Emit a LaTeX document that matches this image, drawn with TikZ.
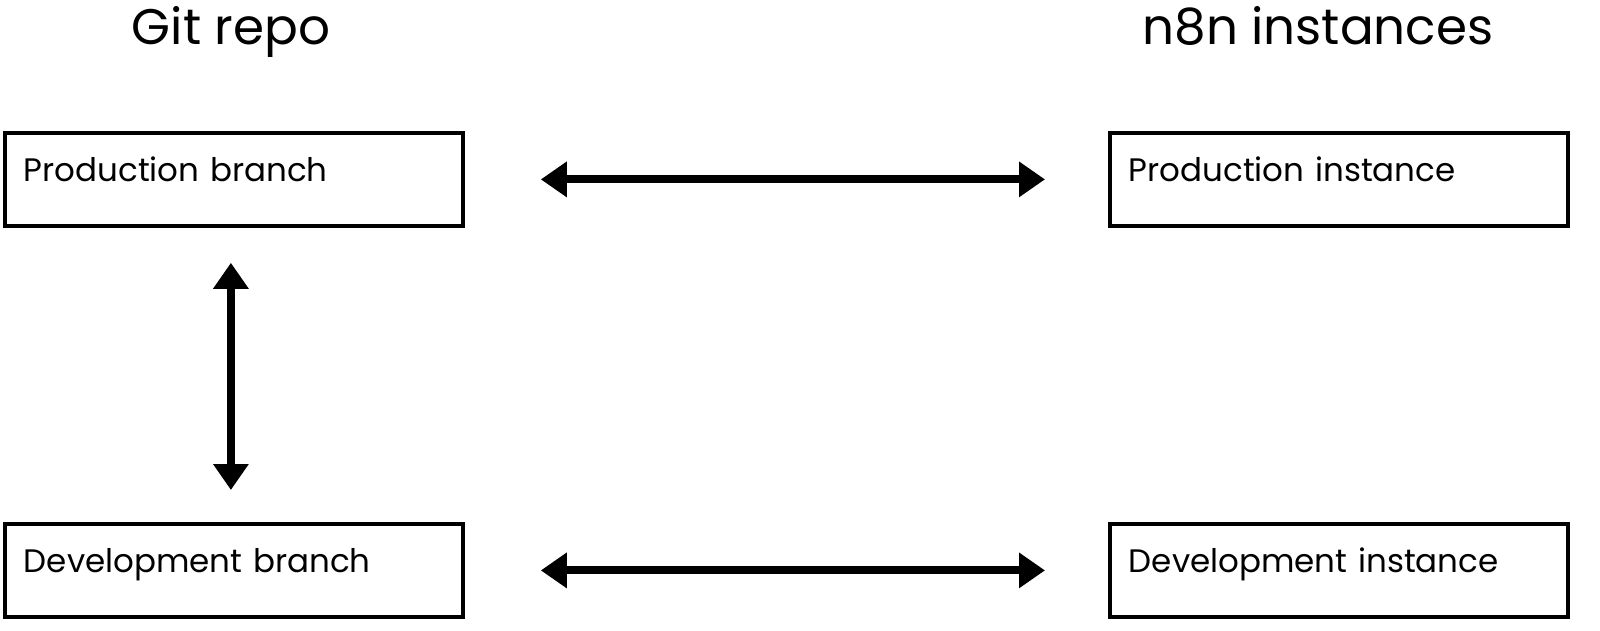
\documentclass[tikz,border=0pt]{standalone}
\usepackage{fontspec}
\setmainfont{Poppins}
\usetikzlibrary{arrows.meta}
\tikzset{
  box/.style={draw=black, line width=3.8pt, anchor=north west, minimum width=458pt,
    inner xsep=19pt, inner ysep=0pt, text width=420pt, align=left,
    text height=49pt, text depth=44pt, font=\fontsize{32.5}{38}\selectfont},
  title/.style={font=\fontsize{50}{56}\selectfont, anchor=base},
  link/.style={line width=8pt, {Triangle[length=26pt,width=34pt]}-{Triangle[length=26pt,width=34pt]}}
}
\begin{document}
\begin{tikzpicture}[x=1pt,y=-1pt]
\useasboundingbox (0,0) rectangle (1600,631);
\node[title] (t1) at (231,45) {Git repo};
\node[title] (t2) at (1318,45) {n8n instances};
\node[box] (pb) at (3,131) {Production branch};
\node[box] (pi) at (1108,131) {Production instance};
\node[box] (db) at (3,522) {Development branch};
\node[box] (di) at (1108,522) {Development instance};
\draw[link, shorten <=76pt, shorten >=63pt] (pb.east) -- (pi.west);
\draw[link, shorten <=76pt, shorten >=63pt] (db.east) -- (di.west);
\draw[link, shorten <=35pt, shorten >=32pt] ([xshift=-3pt]pb.south) -- ([xshift=-3pt]db.north);
\end{tikzpicture}
\end{document}
